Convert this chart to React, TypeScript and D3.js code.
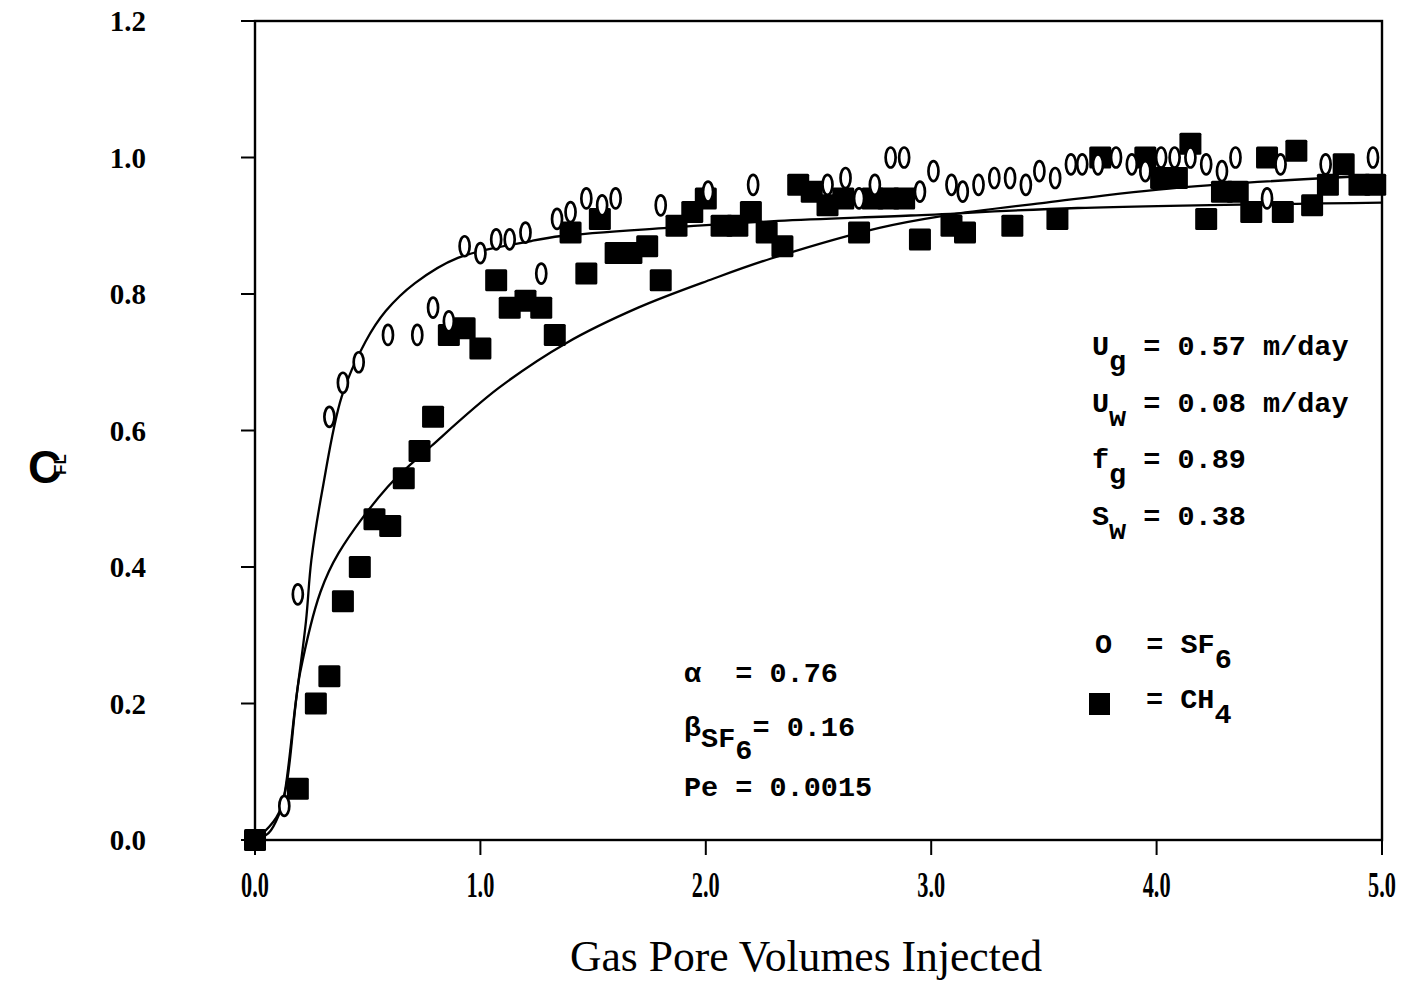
import * as d3 from "d3";
import React, { useRef, useEffect } from "react";

// SF6 tracer (open symbols)
const sf6X = [0.13, 0.19, 0.33, 0.39, 0.46, 0.59, 0.72, 0.79, 0.86, 0.93, 1.0, 1.07, 1.13, 1.2, 1.27, 1.34, 1.4, 1.47, 1.54, 1.6, 1.8, 2.01, 2.21, 2.54, 2.62, 2.68, 2.75, 2.82, 2.88, 2.95, 3.01, 3.09, 3.14, 3.21, 3.28, 3.35, 3.42, 3.48, 3.55, 3.62, 3.67, 3.74, 3.82, 3.89, 3.95, 4.02, 4.08, 4.15, 4.22, 4.29, 4.35, 4.49, 4.55, 4.75, 4.96];
const sf6Y = [0.05, 0.36, 0.62, 0.67, 0.7, 0.74, 0.74, 0.78, 0.76, 0.87, 0.86, 0.88, 0.88, 0.89, 0.83, 0.91, 0.92, 0.94, 0.93, 0.94, 0.93, 0.95, 0.96, 0.96, 0.97, 0.94, 0.96, 1.0, 1.0, 0.95, 0.98, 0.96, 0.95, 0.96, 0.97, 0.97, 0.96, 0.98, 0.97, 0.99, 0.99, 0.99, 1.0, 0.99, 0.98, 1.0, 1.0, 1.0, 0.99, 0.98, 1.0, 0.94, 0.99, 0.99, 1.0];

// CH4 (filled squares)
const ch4X = [0, 0.19, 0.27, 0.33, 0.39, 0.465, 0.53, 0.6, 0.66, 0.73, 0.79, 0.86, 0.93, 1.0, 1.07, 1.13, 1.2, 1.27, 1.33, 1.4, 1.47, 1.53, 1.6, 1.67, 1.74, 1.8, 1.87, 1.94, 2.0, 2.07, 2.14, 2.2, 2.27, 2.34, 2.41, 2.47, 2.54, 2.61, 2.68, 2.74, 2.81, 2.88, 2.95, 3.09, 3.15, 3.36, 3.56, 3.75, 3.95, 4.02, 4.09, 4.15, 4.22, 4.29, 4.36, 4.42, 4.49, 4.56, 4.62, 4.69, 4.76, 4.83, 4.9, 4.97];
const ch4Y = [0, 0.075, 0.2, 0.24, 0.35, 0.4, 0.47, 0.46, 0.53, 0.57, 0.62, 0.74, 0.75, 0.72, 0.82, 0.78, 0.79, 0.78, 0.74, 0.89, 0.83, 0.91, 0.86, 0.86, 0.87, 0.82, 0.9, 0.92, 0.94, 0.9, 0.9, 0.92, 0.89, 0.87, 0.96, 0.95, 0.93, 0.94, 0.89, 0.94, 0.94, 0.94, 0.88, 0.9, 0.89, 0.9, 0.91, 1.0, 1.0, 0.97, 0.97, 1.02, 0.91, 0.95, 0.95, 0.92, 1.0, 0.92, 1.01, 0.93, 0.96, 0.99, 0.96, 0.96];

// model curves
const sf6FitX = [0, 0.06, 0.106, 0.13, 0.18, 0.226, 0.25, 0.3, 0.385, 0.49, 0.58, 0.71, 0.9, 1.23, 1.36, 1.83, 2.32, 2.91, 3.65, 5.0];
const sf6FitY = [0, 0.01, 0.037, 0.066, 0.2, 0.32, 0.41, 0.515, 0.65, 0.73, 0.775, 0.816, 0.853, 0.878, 0.885, 0.897, 0.907, 0.915, 0.926, 0.934];
const ch4FitX = [0, 0.106, 0.2, 0.29, 0.37, 0.59, 0.785, 1.08, 1.38, 1.7, 2.03, 2.29, 2.77, 3.06, 3.51, 4.1, 5.0];
const ch4FitY = [0, 0.04, 0.245, 0.363, 0.42, 0.518, 0.578, 0.662, 0.728, 0.78, 0.822, 0.852, 0.897, 0.915, 0.934, 0.956, 0.974];

const xTicks = [0, 1, 2, 3, 4, 5];
const xTickLabels = ["0.0", "1.0", "2.0", "3.0", "4.0", "5.0"];
const yTicks = [0, 0.2, 0.4, 0.6, 0.8, 1.0, 1.2];
const yTickLabels = ["0.0", "0.2", "0.4", "0.6", "0.8", "1.0", "1.2"];

export default function App() {
  const svgRef = useRef(null);

  useEffect(() => {
    document.body.style.margin = "0";
    const width = 1406;
    const height = 981;
    const mono = "'Liberation Mono', 'DejaVu Sans Mono', monospace";
    const serif = "'Liberation Serif', 'DejaVu Serif', serif";

    const x = d3.scaleLinear().domain([0, 5]).range([255, 1382]);
    const y = d3.scaleLinear().domain([0, 1.2]).range([840, 21]);

    const svg = d3.select(svgRef.current).attr("width", width).attr("height", height);
    svg.selectAll("*").remove();
    svg.append("rect").attr("width", width).attr("height", height).attr("fill", "#fff");

    // frame
    svg
      .append("rect")
      .attr("x", x(0))
      .attr("y", y(1.2))
      .attr("width", x(5) - x(0))
      .attr("height", y(0) - y(1.2))
      .attr("fill", "none")
      .attr("stroke", "#000")
      .attr("stroke-width", 2.4);

    // y ticks + labels
    svg
      .selectAll("line.yt")
      .data(yTicks)
      .enter()
      .append("line")
      .attr("x1", x(0) - 14)
      .attr("x2", x(0))
      .attr("y1", (d) => y(d))
      .attr("y2", (d) => y(d))
      .attr("stroke", "#000")
      .attr("stroke-width", 2);
    svg
      .selectAll("text.yl")
      .data(yTicks)
      .enter()
      .append("text")
      .attr("x", 146)
      .attr("y", (d) => y(d) + 10)
      .attr("text-anchor", "end")
      .attr("font-family", serif)
      .attr("font-weight", "bold")
      .attr("font-size", 29)
      .text((d, i) => yTickLabels[i]);

    // x ticks + labels (condensed)
    svg
      .selectAll("line.xt")
      .data(xTicks)
      .enter()
      .append("line")
      .attr("x1", (d) => x(d))
      .attr("x2", (d) => x(d))
      .attr("y1", y(0))
      .attr("y2", y(0) + 15)
      .attr("stroke", "#000")
      .attr("stroke-width", 2);
    svg
      .selectAll("text.xl")
      .data(xTicks)
      .enter()
      .append("text")
      .attr("transform", (d) => `translate(${x(d)},897) scale(0.62,1)`)
      .attr("text-anchor", "middle")
      .attr("font-family", serif)
      .attr("font-weight", "bold")
      .attr("font-size", 36)
      .text((d, i) => xTickLabels[i]);

    // axis titles
    svg
      .append("text")
      .attr("x", 570)
      .attr("y", 971)
      .attr("font-family", serif)
      .attr("font-size", 44)
      .attr("textLength", 472)
      .attr("lengthAdjust", "spacingAndGlyphs")
      .text("Gas Pore Volumes Injected");
    svg
      .append("text")
      .attr("x", 28)
      .attr("y", 483)
      .attr("font-family", "'Liberation Sans', sans-serif")
      .attr("font-weight", "bold")
      .attr("font-size", 46)
      .text("C");
    svg
      .append("text")
      .attr("transform", "translate(66,475) rotate(-90)")
      .attr("font-family", "'Liberation Sans', sans-serif")
      .attr("font-weight", "bold")
      .attr("font-size", 17)
      .text("FL");

    // model curves
    const line = d3
      .line<number>()
      .x((d) => x(d))
      .curve(d3.curveCatmullRom.alpha(0.5));
    svg
      .append("path")
      .attr("d", line.y((d, i) => y(sf6FitY[i]))(sf6FitX))
      .attr("fill", "none")
      .attr("stroke", "#000")
      .attr("stroke-width", 2.3);
    svg
      .append("path")
      .attr("d", line.y((d, i) => y(ch4FitY[i]))(ch4FitX))
      .attr("fill", "none")
      .attr("stroke", "#000")
      .attr("stroke-width", 2.3);

    // CH4 squares
    const sq = 22;
    svg
      .selectAll("rect.ch4")
      .data(ch4X)
      .enter()
      .append("rect")
      .attr("x", (d) => x(d) - sq / 2)
      .attr("y", (d, i) => y(ch4Y[i]) - sq / 2)
      .attr("width", sq)
      .attr("height", sq)
      .attr("rx", 1.5)
      .attr("fill", "#000");

    // SF6 open ellipses
    svg
      .selectAll("ellipse.sf6")
      .data(sf6X)
      .enter()
      .append("ellipse")
      .attr("cx", (d) => x(d))
      .attr("cy", (d, i) => y(sf6Y[i]))
      .attr("rx", 5)
      .attr("ry", 10)
      .attr("fill", "#fff")
      .attr("stroke", "#000")
      .attr("stroke-width", 2.7);

    // annotations (monospace, subscripts dropped)
    const note = (x0: number, y0: number, parts: [string, number][]) => {
      const t = svg
        .append("text")
        .attr("x", x0)
        .attr("y", y0)
        .attr("font-family", mono)
        .attr("font-weight", "bold")
        .attr("font-size", 28.5)
        .attr("xml:space", "preserve")
        .style("white-space", "pre");
      parts.forEach(([s, dy]) => t.append("tspan").attr("dy", dy).text(s));
    };
    note(1092, 355, [["U", 0], ["g", 15], [" = 0.57 m/day", -15]]);
    note(1092, 412, [["U", 0], ["w", 14], [" = 0.08 m/day", -14]]);
    note(1092, 468, [["f", 0], ["g", 15], [" = 0.89", -15]]);
    note(1092, 525, [["S", 0], ["w", 14], [" = 0.38", -14]]);
    note(1095, 653, [["O  = SF", 0], ["6", 15]]);
    svg.append("rect").attr("x", 1089).attr("y", 693).attr("width", 21).attr("height", 22).attr("fill", "#000");
    note(1146, 708, [["= CH", 0], ["4", 15]]);
    note(684, 682, [["\u03b1  = 0.76", 0]]);
    note(684, 736, [["\u03b2", 0], ["SF", 11], ["6", 12], ["= 0.16", -23]]);
    note(684, 796, [["Pe = 0.0015", 0]]);
  }, []);

  return <svg ref={svgRef}></svg>;
}
